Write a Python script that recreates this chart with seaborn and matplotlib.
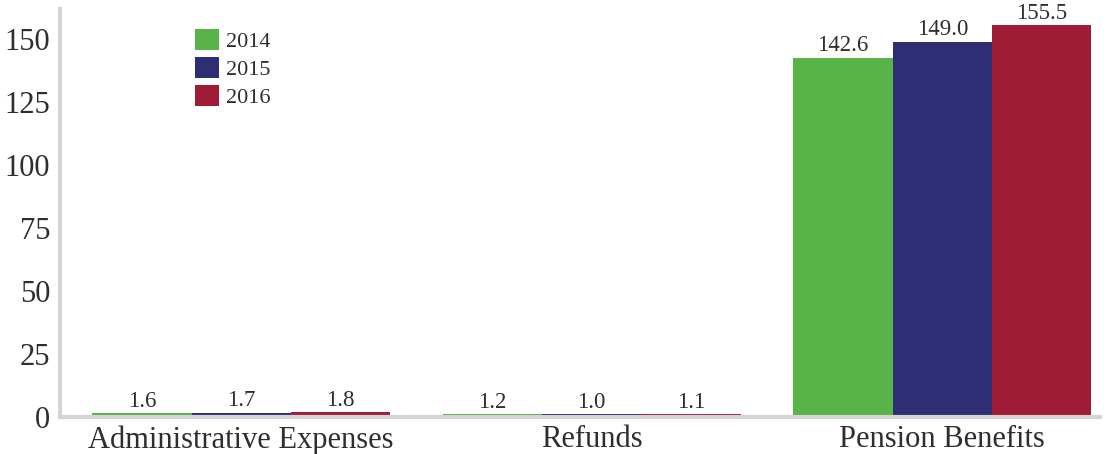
import matplotlib
matplotlib.use("Agg")
import matplotlib.pyplot as plt
import seaborn as sns
import pandas as pd

# Expense categories and yearly amounts (millions)
categories = ["Administrative Expenses", "Refunds", "Pension Benefits"]
years = ["2014", "2015", "2016"]
values_2014 = [1.6, 1.2, 142.6]
values_2015 = [1.7, 1.0, 149.0]
values_2016 = [1.8, 1.1, 155.5]
y_ticks = [0, 25, 50, 75, 100, 125, 150]

colors = ["#58b446", "#2d2e74", "#a01b35"]
text_color = "#2e2e2e"
spine_color = "#d4d4d4"

df = pd.DataFrame({
    "category": categories * 3,
    "year": [years[0]] * 3 + [years[1]] * 3 + [years[2]] * 3,
    "value": values_2014 + values_2015 + values_2016,
})

sns.set_theme(style="white")
plt.rcParams["font.family"] = ["Liberation Serif", "DejaVu Serif"]

fig = plt.figure(figsize=(11.1, 4.54), dpi=100)
ax = fig.add_axes([0.054, 0.0815, 0.937, 0.899])

sns.barplot(data=df, x="category", y="value", hue="year", order=categories,
            hue_order=years, palette=colors, width=0.85, saturation=1,
            linewidth=0, ax=ax)

for container in ax.containers:
    ax.bar_label(container, fmt="%.1f", fontsize=16.5, color=text_color, padding=1)

ax.set_ylim(0, 162)
ax.set_xlim(-0.517, 2.45)
ax.set_yticks(y_ticks)
ax.set_xlabel("")
ax.set_ylabel("")
ax.tick_params(axis="y", length=0, pad=7, labelsize=22, labelcolor=text_color)
ax.tick_params(axis="x", length=0, pad=6, labelsize=22, labelcolor=text_color)

for side in ["top", "right"]:
    ax.spines[side].set_visible(False)
for side in ["left", "bottom"]:
    ax.spines[side].set_color(spine_color)
    ax.spines[side].set_linewidth(3)

handles, labels = ax.get_legend_handles_labels()
ax.legend(handles, labels, loc="upper left", bbox_to_anchor=(0.13, 0.95),
          frameon=False, fontsize=16, handlelength=1.08, handleheight=1.08,
          handletextpad=0.3, labelspacing=0.22, borderpad=0, borderaxespad=0,
          labelcolor=text_color)

fig.savefig("out.png", dpi=100)
